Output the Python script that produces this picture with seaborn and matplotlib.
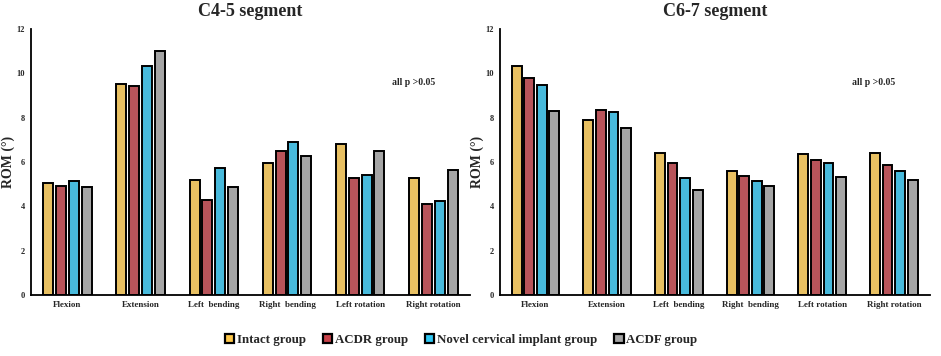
import seaborn as sns
import matplotlib.pyplot as plt
import pandas as pd
from matplotlib.patches import Patch

# Movimentos e grupos
movements = ["Flexion", "Extension", "Left  bending", "Right  bending", "Left rotation", "Right rotation"]
groups = ["Intact group", "ACDR group", "Novel cervical implant group", "ACDF group"]
colors = ["#FFC94B", "#C9434B", "#30C8F4", "#A5A5A5"]

# ROM (graus)
c45_intact = [5.04, 9.53, 5.19, 5.96, 6.81, 5.26]
c45_acdr = [4.94, 9.44, 4.28, 6.51, 5.29, 4.12]
c45_novel = [5.14, 10.34, 5.74, 6.90, 5.43, 4.25]
c45_acdf = [4.88, 10.99, 4.85, 6.29, 6.50, 5.65]

c67_intact = [10.33, 7.87, 6.42, 5.58, 6.36, 6.42]
c67_acdr = [9.77, 8.34, 5.94, 5.38, 6.11, 5.88]
c67_novel = [9.48, 8.25, 5.28, 5.13, 5.94, 5.58]
c67_acdf = [8.28, 7.51, 4.72, 4.90, 5.32, 5.17]

yticks = [0, 2, 4, 6, 8, 10, 12]


def long_df(series):
    rows = []
    for g, vals in zip(groups, series):
        for m, v in zip(movements, vals):
            rows.append({"Movement": m, "Group": g, "ROM": v})
    return pd.DataFrame(rows)


panels = [
    ("C4-5 segment", long_df([c45_intact, c45_acdr, c45_novel, c45_acdf])),
    ("C6-7 segment", long_df([c67_intact, c67_acdr, c67_novel, c67_acdf])),
]

sns.set_style("white")
plt.rcParams["font.family"] = ["Liberation Serif", "DejaVu Serif"]

fig = plt.figure(figsize=(9.41, 3.56), dpi=100)
axes = [fig.add_axes([0.0326, 0.171, 0.467, 0.748]),
        fig.add_axes([0.531, 0.171, 0.457, 0.748])]

for ax, (title, df) in zip(axes, panels):
    sns.barplot(data=df, x="Movement", y="ROM", hue="Group", order=movements,
                hue_order=groups, palette=colors, width=0.7, gap=0.22,
                edgecolor="black", linewidth=1.4, legend=False, ax=ax)
    ax.set_xlim(-0.5, 5.5)
    ax.set_ylim(0, 12)
    ax.set_yticks(yticks)
    ax.set_yticklabels([str(t) for t in yticks], fontsize=6, fontweight="bold")
    ax.set_xticks(range(len(movements)))
    ax.set_xticklabels(movements, fontsize=6.5, fontweight="bold")
    ax.tick_params(axis="both", length=0, pad=4)
    ax.set_xlabel("")
    ax.set_ylabel("ROM (°)", fontsize=10, fontweight="bold")
    ax.yaxis.set_label_coords(-0.036, 0.5)
    ax.set_title(title, fontsize=13, fontweight="bold", pad=9)
    for s in ["top", "right"]:
        ax.spines[s].set_visible(False)
    for s in ["left", "bottom"]:
        ax.spines[s].set_color("black")
        ax.spines[s].set_linewidth(1.3)
    ax.text(0.921, 0.80, "all p >0.05", transform=ax.transAxes, ha="right",
            va="center", fontsize=7, fontweight="bold")

handles = [Patch(facecolor=c, edgecolor="black", linewidth=1.6) for c in colors]
fig.legend(handles, groups, loc="center", bbox_to_anchor=(0.49, 0.045), ncol=4,
           frameon=False, prop={"weight": "bold", "size": 9.3},
           handlelength=0.7, handleheight=0.7, handletextpad=0.2, columnspacing=1.35)

fig.savefig("out.png", dpi=100)
